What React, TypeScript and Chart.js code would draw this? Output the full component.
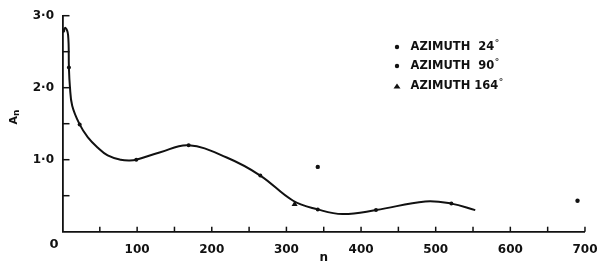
import React, { useEffect, useRef } from "react";
import { Chart, registerables } from "chart.js";

Chart.register(...registerables);

// Smooth fitted curve (n, A_n)
const curveN = [1, 4, 7.5, 8.6, 9.9, 13, 23, 34, 47, 60.5, 78, 90, 98.8, 130, 169, 220, 265, 309, 342, 375, 420, 486, 521, 553];
const curveA = [2.79, 2.83, 2.73, 2.28, 2.02, 1.75, 1.49, 1.31, 1.17, 1.06, 1.0, 0.99, 1.0, 1.1, 1.2, 1.03, 0.78, 0.43, 0.31, 0.245, 0.3, 0.42, 0.39, 0.3];

// Observed points per azimuth
const az24N = [1, 8.6, 23, 98.8, 169, 265, 342, 420, 521];
const az24A = [2.79, 2.28, 1.49, 1.0, 1.2, 0.78, 0.31, 0.3, 0.39];
const az90N = [342, 690];
const az90A = [0.9, 0.43];
const az164N = [311];
const az164A = [0.38];

const seriesLabels = ["AZIMUTH  24", "AZIMUTH  90", "AZIMUTH 164"];
const xLabelValues = [100, 200, 300, 400, 500, 600, 700];
const yLabelValues = [1, 2, 3];

const INK = "#111111";
const FONT = "DejaVu Sans";

const toPts = (xs: number[], ys: number[]) => xs.map((x, i) => ({ x, y: ys[i] }));

const decorPlugin = {
  id: "decor",
  afterDraw(chart: any) {
    const ctx = chart.ctx as CanvasRenderingContext2D;
    const xs = chart.scales.x;
    const ys = chart.scales.y;
    const area = chart.chartArea;
    ctx.save();
    ctx.strokeStyle = INK;
    ctx.fillStyle = INK;
    ctx.lineWidth = 1.5;
    // inward ticks on x
    for (let v = 50; v <= 700; v += 50) {
      const px = xs.getPixelForValue(v);
      ctx.beginPath();
      ctx.moveTo(px, area.bottom);
      ctx.lineTo(px, area.bottom - 5);
      ctx.stroke();
    }
    // inward ticks on y
    for (let v = 0.5; v <= 3.0001; v += 0.5) {
      const py = ys.getPixelForValue(v);
      ctx.beginPath();
      ctx.moveTo(area.left, py);
      ctx.lineTo(area.left + 7, py);
      ctx.stroke();
    }
    // origin label
    ctx.font = `bold 13px "${FONT}"`;
    ctx.textAlign = "center";
    ctx.textBaseline = "middle";
    ctx.fillText("0", xs.getPixelForValue(0) - 8.5, area.bottom + 13);

    // y-axis title A_n (rotated)
    ctx.save();
    ctx.translate(14, 117);
    ctx.rotate(-Math.PI / 2);
    ctx.textBaseline = "middle";
    ctx.textAlign = "left";
    ctx.font = `bold 11px "${FONT}"`;
    const wA = ctx.measureText("A").width;
    ctx.font = `bold 9px "${FONT}"`;
    const wn = ctx.measureText("n").width;
    const start = -(wA + wn) / 2;
    ctx.font = `bold 11px "${FONT}"`;
    ctx.fillText("A", start, 0);
    ctx.font = `bold 9px "${FONT}"`;
    ctx.fillText("n", start + wA, 3);
    ctx.restore();

    // legend
    const rows = [47, 66, 86];
    const mx = 397;
    const tx = 410.5;
    ctx.textAlign = "left";
    ctx.textBaseline = "middle";
    for (let i = 0; i < seriesLabels.length; i++) {
      const y = rows[i];
      ctx.beginPath();
      if (i < 2) {
        ctx.arc(mx, y, 2.2, 0, Math.PI * 2);
      } else {
        ctx.moveTo(mx - 3.5, y + 2.5);
        ctx.lineTo(mx + 3.5, y + 2.5);
        ctx.lineTo(mx, y - 2.5);
        ctx.closePath();
      }
      ctx.fill();
      ctx.font = `bold 11.5px "${FONT}"`;
      ctx.fillText(seriesLabels[i], tx, y);
      const w = ctx.measureText(seriesLabels[i]).width;
      ctx.font = `bold 9px "${FONT}"`;
      ctx.fillText("°", tx + w + 0.5, y - 3);
    }
    ctx.restore();
  },
};

export default function App() {
  const ref = useRef<HTMLCanvasElement | null>(null);
  useEffect(() => {
    if (!ref.current) return;
    const chart = new Chart(ref.current, {
      type: "scatter",
      data: {
        datasets: [
          {
            label: "curve",
            data: toPts(curveN, curveA),
            showLine: true,
            borderColor: INK,
            borderWidth: 2,
            pointRadius: 0,
            tension: 0.4,
            fill: false,
          } as any,
          {
            label: seriesLabels[0] + "°",
            data: toPts(az24N, az24A),
            pointRadius: 2,
            pointStyle: "circle",
            backgroundColor: INK,
            borderColor: INK,
            borderWidth: 0,
          },
          {
            label: seriesLabels[1] + "°",
            data: toPts(az90N, az90A),
            pointRadius: 2.2,
            pointStyle: "circle",
            backgroundColor: INK,
            borderColor: INK,
            borderWidth: 0,
          },
          {
            label: seriesLabels[2] + "°",
            data: toPts(az164N, az164A),
            pointRadius: 3.5,
            pointStyle: "triangle",
            backgroundColor: INK,
            borderColor: INK,
            borderWidth: 0,
          },
        ],
      },
      options: {
        animation: false,
        responsive: false,
        devicePixelRatio: 1,
        layout: { padding: { left: 0, right: 15.5, top: 5.5, bottom: 0 } },
        plugins: { legend: { display: false }, tooltip: { enabled: false } },
        scales: {
          x: {
            type: "linear",
            min: 0,
            max: 700,
            afterFit: (s: any) => { s.height = 33.3; },
            grid: { display: false, drawTicks: false },
            border: { display: true, color: INK, width: 1.8 },
            ticks: {
              stepSize: 100,
              padding: 10.5,
              color: INK,
              font: { family: FONT, size: 12, weight: "bold" },
              callback: (v: any) => (xLabelValues.includes(Number(v)) ? String(v) : ""),
              maxRotation: 0,
              autoSkip: false,
            },
            title: {
              display: true,
              text: "n",
              color: INK,
              font: { family: FONT, size: 12, weight: "bold" },
              padding: { top: 0, bottom: 0 },
            },
          },
          y: {
            type: "linear",
            min: 0,
            max: 3,
            afterFit: (s: any) => { s.width = 62.5; },
            grid: { display: false, drawTicks: false },
            border: { display: true, color: INK, width: 1.8 },
            ticks: {
              stepSize: 1,
              padding: 8.5,
              color: INK,
              font: { family: FONT, size: 12, weight: "bold" },
              callback: (v: any) => (yLabelValues.includes(Number(v)) ? Number(v).toFixed(1).replace(".", "·") : ""),
            },
          },
        },
      } as any,
      plugins: [decorPlugin],
    });
    return () => chart.destroy();
  }, []);
  return (
    <div style={{ position: "fixed", left: 0, top: 0, width: 608, height: 265, background: "#fff" }}>
      <canvas ref={ref} width={608} height={265} />
    </div>
  );
}
